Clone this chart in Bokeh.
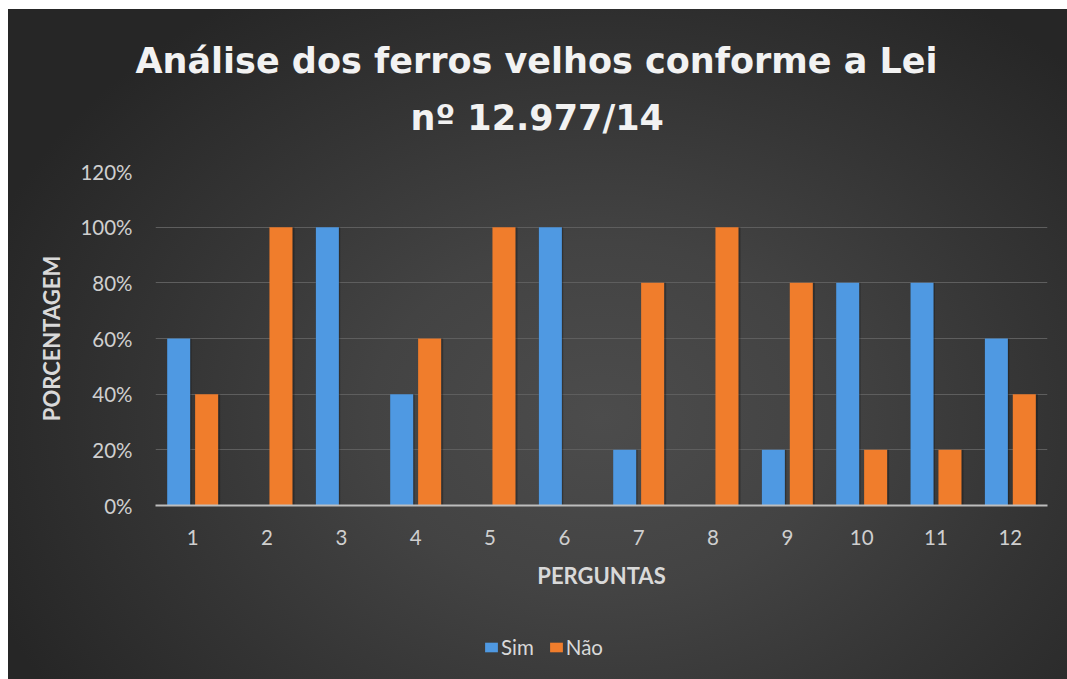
from bokeh.plotting import figure
from bokeh.layouts import column
from bokeh.models import (ColumnDataSource, Range1d, FixedTicker, PrintfTickFormatter,
                          Title, Legend, LegendItem)
from bokeh.transform import dodge
from bokeh.embed import file_html
from bokeh.resources import INLINE

# ---- data ----
questions = [1, 2, 3, 4, 5, 6, 7, 8, 9, 10, 11, 12]
sim = [60, 0, 100, 40, 0, 100, 20, 0, 20, 80, 80, 60]
nao = [40, 100, 0, 60, 100, 0, 80, 100, 80, 20, 20, 40]
y_ticks = [0, 20, 40, 60, 80, 100, 120]
series_names = ["Sim", "Não"]
title_lines = ["Análise dos ferros velhos conforme a Lei", "nº 12.977/14"]
x_title = "PERGUNTAS"
y_title = "PORCENTAGEM"

BLUE = "#4f99e2"
ORANGE = "#f07d2c"
GRAD = "radial-gradient(ellipse 62% 75% at 56% 61%, #4c4c4c 0%, #434343 35%, #343434 68%, #262626 100%)"

W, H_MAIN, H_LEG = 1067, 619, 60

src = ColumnDataSource(dict(q=questions, sim=sim, nao=nao))

p = figure(width=W, height=H_MAIN, output_backend="svg", toolbar_location=None,
           x_range=Range1d(0.5, 12.5), y_range=Range1d(0, 120),
           min_border_left=155, min_border_right=20, min_border_top=171,
           min_border_bottom=H_MAIN - 505)

p.styles = {
    "background-color": "#ffffff",
    "background-image": GRAD,
    "background-position": "8px 9px",
    "background-size": "1059px 670px",
    "background-repeat": "no-repeat",
}
p.border_fill_alpha = 0
p.background_fill_alpha = 0
p.outline_line_color = None

# bars (with subtle shadow)
p.vbar(x=dodge("q", -0.18, range=p.x_range), top="sim", width=0.33, source=src,
       fill_color="#111111", fill_alpha=0.35, line_color=None)
p.vbar(x=dodge("q", 0.205, range=p.x_range), top="nao", width=0.33, source=src,
       fill_color="#111111", fill_alpha=0.35, line_color=None)
p.vbar(x=dodge("q", -0.188, range=p.x_range), top="sim", width=0.31, source=src,
       fill_color=BLUE, line_color=None)
p.vbar(x=dodge("q", 0.188, range=p.x_range), top="nao", width=0.31, source=src,
       fill_color=ORANGE, line_color=None)

# axes
p.xaxis.ticker = FixedTicker(ticks=questions)
p.yaxis.ticker = FixedTicker(ticks=y_ticks)
p.yaxis.formatter = PrintfTickFormatter(format="%d%%")
for ax in (p.xaxis[0], p.yaxis[0]):
    ax.major_tick_line_color = None
    ax.minor_tick_line_color = None
    ax.major_label_text_font = "Lato"
    ax.major_label_text_font_size = "20.5px"
    ax.major_label_text_color = "#cfcfcf"
    ax.axis_label_text_font = "Lato"
    ax.axis_label_text_font_size = "22px"
    ax.axis_label_text_font_style = "bold"
    ax.axis_label_text_color = "#d9d9d9"
p.xaxis.axis_label = x_title
p.yaxis.axis_label = y_title
p.xaxis.axis_line_color = "#bdbdbd"
p.xaxis.axis_line_width = 2
p.yaxis.axis_line_color = None
p.xaxis.major_label_standoff = 18
p.xaxis.axis_label_standoff = 14
p.yaxis.major_label_standoff = 17
p.yaxis.axis_label_standoff = 12

p.xgrid.grid_line_color = None
p.ygrid.grid_line_color = "#5e5e5e"
p.ygrid.grid_line_width = 1

# title (two lines), closest to the frame first
p.add_layout(Title(text=title_lines[1], align="left", offset=255, standoff=67,
                   text_font="DejaVu Sans", text_font_style="bold", text_font_size="35px",
                   text_color="#f2f2f2"), "above")
p.add_layout(Title(text=title_lines[0], align="left", offset=-20, standoff=-37,
                   text_font="DejaVu Sans", text_font_style="bold", text_font_size="35px",
                   text_color="#f2f2f2"), "above")

# legend strip (separate small figure so the legend is not clipped)
p2 = figure(width=W, height=H_LEG, output_backend="svg", toolbar_location=None,
            x_axis_type=None, y_axis_type=None, min_border=0,
            x_range=Range1d(0.5, 12.5), y_range=Range1d(500, 600))
p2.styles = {
    "background-color": "#ffffff",
    "background-image": GRAD,
    "background-position": f"8px {9 - H_MAIN}px",
    "background-size": "1059px 670px",
    "background-repeat": "no-repeat",
}
p2.border_fill_alpha = 0
p2.background_fill_alpha = 0
p2.outline_line_color = None
p2.grid.visible = False
# same series, drawn outside this strip's visible range; used only for legend swatches
l_sim = p2.vbar(x="q", top="sim", width=0.3, source=src, fill_color=BLUE, line_color=None)
l_nao = p2.vbar(x="q", top="nao", width=0.3, source=src, fill_color=ORANGE, line_color=None)

legend = Legend(items=[LegendItem(label=series_names[0], renderers=[l_sim]),
                       LegendItem(label=series_names[1], renderers=[l_nao])],
                orientation="horizontal", location=(328, 20),
                background_fill_alpha=0, border_line_color=None,
                padding=0, margin=0, spacing=14, label_standoff=2,
                glyph_width=16, glyph_height=12,
                label_text_font="Lato", label_text_font_size="20.5px",
                label_text_color="#d9d9d9")
p2.add_layout(legend)

layout = column(p, p2, spacing=0)
open("out.html", "w").write(file_html(layout, INLINE))
